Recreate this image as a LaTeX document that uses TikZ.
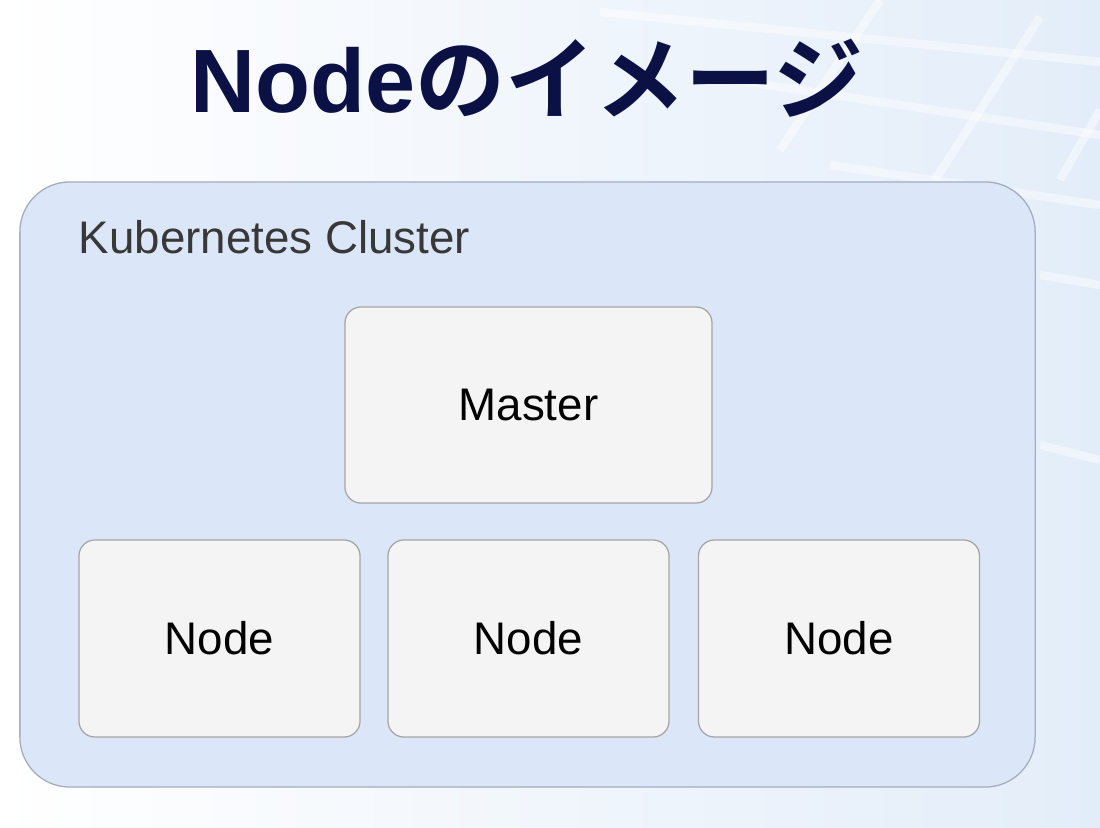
\documentclass[tikz,border=0pt]{standalone}
\usepackage{fontspec}
\setmainfont{Liberation Sans}
\newfontfamily\jpfont{Noto Sans CJK JP}[BoldFont={Noto Sans CJK JP Bold}]
\usepackage{tikz}
\definecolor{titleblue}{HTML}{0B1145}
\definecolor{clusterfill}{HTML}{DBE7F8}
\definecolor{clusterline}{HTML}{A3ADBB}
\definecolor{boxfill}{HTML}{F4F4F4}
\definecolor{boxline}{HTML}{A5A5A5}
\definecolor{bgblue}{HTML}{E3EDF9}
\tikzset{
  cluster/.style={draw=clusterline,fill=clusterfill,line width=0.9pt,rounded corners=1.25cm,
    minimum width=25.375cm,minimum height=15.125cm},
  machine/.style={draw=boxline,fill=boxfill,line width=0.9pt,rounded corners=0.4cm,
    font=\fontsize{32.5}{38}\selectfont,text=black},
  nodebox/.style={machine,minimum width=7.025cm,minimum height=4.925cm},
  grid/.style={white,line width=6pt,opacity=0.45}
}
\begin{document}
\begin{tikzpicture}[x=0.025cm,y=-0.025cm]
\useasboundingbox (0,0) rectangle (1100,828);
% fond
\shade[left color=white,right color=bgblue] (0,0) rectangle (1100,828);
\draw[grid] (600,12) -- (1100,62); % lignes du fond
\draw[grid] (700,75) -- (1100,135);
\draw[grid] (830,165) -- (1100,205);
\draw[grid] (1040,275) -- (1100,285);
\draw[grid] (1040,445) -- (1100,460);
\draw[grid] (1040,17) -- (935,180);
\draw[grid] (880,0) -- (780,150);
\draw[grid] (1100,110) -- (1060,180);
% titre
\node[anchor=base,text=titleblue,font=\fontsize{64}{70}\selectfont\bfseries] (title)
  at (527,113) {Node\jpfont のイメージ};
% cluster
\node[cluster] (cluster) at (527.5,484.5) {};
\node[anchor=base west,text=black!78,font=\fontsize{32.5}{38}\selectfont] (clusterlabel)
  at (74,253) {Kubernetes Cluster};
% master et nodes
\node[machine,minimum width=9.175cm,minimum height=4.9cm] (master) at (528.5,405) {Master};
\node[nodebox] (node1) at (219.5,638.5) {Node};
\node[nodebox] (node2) at (528.5,638.5) {Node};
\node[nodebox] (node3) at (839,638.5) {Node};
\end{tikzpicture}
\end{document}
